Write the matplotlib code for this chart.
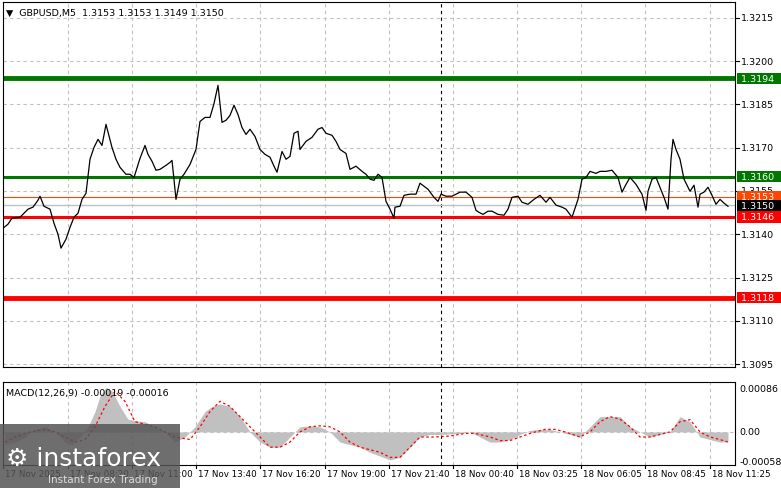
import numpy as np
import matplotlib.pyplot as plt
from matplotlib.patches import Rectangle

# ---- data (bar index, price in pips above 1.3100) ----
bars = [1.5, 4, 6, 10, 12, 14, 16.5, 19, 20, 22, 25, 27, 29, 30.5, 33, 35, 37, 39, 41, 43, 45, 47, 49, 51,
        53, 56, 58, 60, 63, 65, 67, 70, 72.5, 74, 76, 78, 80, 83, 85, 86, 88, 90, 92, 95, 98, 100, 102.5, 105,
        107, 109, 111, 113, 115, 117, 119, 121, 123, 125, 127.5, 130, 132.5, 135, 137, 138.5, 141, 143, 145,
        147, 149, 150, 153, 156, 159, 161, 163, 166, 168, 170, 173, 175, 178, 181, 183, 185, 187, 189, 191,
        193, 195, 197, 197.5, 200, 202, 205, 208, 210, 214, 217, 219, 220.5, 223, 226, 230, 233, 236, 238,
        239.5, 241.5, 244, 246, 249, 252, 254, 256, 259, 261, 264, 267, 270, 273, 275, 278, 281, 283, 286,
        289, 291, 293, 295, 298, 300, 303, 306, 309, 311, 313, 315, 318, 321, 323, 324, 326, 328, 330, 332,
        334, 335.5, 336.5, 338, 340, 342, 345, 347, 349, 350, 352, 354, 356, 358, 360, 362, 364]
price_pips = [42.1, 43.5, 45.6, 45.9, 47.3, 48.7, 49.4, 51.8, 53.2, 49.7, 48.7, 43.8, 40.0, 35.2, 38.3,
              42.4, 45.9, 47.3, 52.1, 54.2, 66.0, 70.1, 72.9, 70.8, 78.1, 70.1, 66.0, 63.2, 60.8, 60.8,
              59.7, 66.3, 70.8, 67.7, 65.3, 62.2, 62.5, 63.9, 64.9, 65.6, 52.1, 59.1, 60.8, 64.2, 69.4,
              79.1, 80.5, 80.5, 85.3, 91.6, 78.8, 79.5, 81.2, 84.7, 81.5, 77.0, 74.6, 76.4, 73.9, 69.4,
              67.7, 66.7, 63.6, 61.5, 68.7, 66.0, 67.0, 75.0, 75.7, 69.4, 72.2, 73.6, 76.4, 77.0, 75.0,
              74.3, 72.2, 69.4, 68.0, 62.5, 63.6, 61.8, 60.8, 59.1, 58.7, 60.8, 59.7, 51.4, 48.7, 45.6,
              49.4, 49.7, 53.5, 53.9, 53.9, 57.7, 55.6, 52.8, 51.4, 53.9, 53.2, 53.2, 54.6, 54.6, 52.8,
              48.3, 47.6, 46.9, 48.0, 48.0, 46.9, 46.6, 48.7, 52.8, 53.2, 51.1, 50.4, 52.1, 53.5, 51.1,
              52.8, 50.1, 49.4, 48.7, 45.9, 52.1, 59.1, 59.7, 61.8, 61.1, 61.8, 61.8, 62.2, 59.7, 54.6,
              57.3, 59.7, 57.3, 53.9, 48.3, 54.9, 59.1, 59.7, 56.3, 52.8, 48.7, 66.0, 72.9, 69.4, 66.0,
              59.1, 54.9, 57.0, 49.4, 53.9, 54.6, 56.3, 53.5, 50.4, 52.1, 50.8, 49.7]
prices = 1.31 + np.array(price_pips) / 10000

# MACD histogram and signal (bar index, value)
hist_bars = [2.5, 7.5, 12.5, 17.5, 22.5, 27.5, 32.5, 36, 40, 44, 47.5, 50, 53, 56, 60, 64, 67.5, 72.5, 77.5,
             82.5, 87.5, 92.5, 97.5, 102.5, 106, 110, 115, 120, 125, 130, 135, 140, 145, 150, 155, 160, 165,
             170, 175, 180, 185, 195, 200, 205, 210, 215, 220, 230, 235, 240, 245, 250, 255, 260, 265, 270,
             275, 280, 285, 290, 295, 300, 305, 310, 315, 320, 325, 330, 335, 340, 345, 350, 355, 360, 364]
hist_vals = [-0.00025, -0.0002, -0.0001, 0.00005, 0.0001, 0.0, -0.0002, -0.00025, -0.0001, 0.0001, 0.0004,
             0.0007, 0.00088, 0.0008, 0.0005, 0.00025, 0.00022, 0.0002, 0.0001, 0.0, -0.0002, -0.0001,
             0.0001, 0.0004, 0.0005, 0.00055, 0.0005, 0.0003, 0.0, -0.0002, -0.0003, -0.0003, -0.0001,
             0.0001, 0.00012, 0.0001, 0.0, -0.0002, -0.00025, -0.0003, -0.0004, -0.00055, -0.0005, -0.0003,
             -0.0001, -0.00005, -0.00005, -0.00003, 0.0, -0.0001, -0.0002, -0.0002, -0.00015, -0.00005,
             0.00003, 0.00005, 0.00005, 0.0, -0.00005, -0.0001, 0.0001, 0.0003, 0.0003, 0.0003, 0.0001,
             0.0, -0.0001, -0.00005, 0.0, 0.0003, 0.0002, -0.0001, -0.00015, -0.0002, -0.00019]
sig_bars = [2.5, 7.5, 15, 22.5, 27.5, 32.5, 37.5, 42.5, 47.5, 52.5, 57.5, 62.5, 67.5, 72.5, 77.5, 82.5,
            87.5, 95, 100, 105, 110, 115, 120, 125, 130, 135, 140, 145, 150, 155, 160, 165, 170, 175, 180,
            185, 190, 195, 200, 205, 210, 217.5, 225, 232.5, 237.5, 245, 250, 255, 260, 265, 272.5, 277.5,
            282.5, 290, 295, 300, 305, 310, 315, 320, 325, 330, 335, 340, 345, 350, 355, 360, 364]
sig_vals = [-0.0002, -0.0001, 0.0, 0.00005, 0.0, -0.0001, -0.0002, -0.00015, 0.0001, 0.0005, 0.0008,
            0.0006, 0.0002, 0.00015, 0.0001, 0.0, -0.0001, -0.00015, 0.0001, 0.0004, 0.0006, 0.0005, 0.0003,
            0.0001, -0.0001, -0.0003, -0.0003, -0.0002, 0.0, 0.0001, 0.00012, 0.0001, 0.0, -0.0002, -0.0003,
            -0.00035, -0.0004, -0.0005, -0.0005, -0.0003, -0.0001, -0.0001, -0.00008, -0.00003, -0.00003,
            -0.0001, -0.00017, -0.00017, -0.0001, -0.00003, 0.00005, 0.00005, 0.0, -0.0001, 0.0, 0.0002,
            0.0003, 0.00025, 0.0001, -0.0001, -0.0001, -0.00005, 0.0, 0.0002, 0.00024, 0.0, -0.0001,
            -0.00015, -0.0002]

# horizontal levels
green_levels = [1.3194, 1.3160]
red_levels = [1.3146, 1.3118]
ask_price = 1.3153
bid_price = 1.3150

price_ticks = [1.3215, 1.3200, 1.3185, 1.3170, 1.3155, 1.3140, 1.3125, 1.3110, 1.3095]
time_tick_bars = [1.5, 34, 66, 98, 130, 162.5, 194.5, 226.5, 258.5, 290.5, 322.5, 355]
time_tick_labels = ["17 Nov 2025", "17 Nov 08:20", "17 Nov 11:00", "17 Nov 13:40", "17 Nov 16:20",
                    "17 Nov 19:00", "17 Nov 21:40", "18 Nov 00:40", "18 Nov 03:25", "18 Nov 06:05",
                    "18 Nov 08:45", "18 Nov 11:25"]
cursor_bar = 220.5

FS = 6.8

# ---- figure ----
W, H = 781, 489
fig = plt.figure(figsize=(W / 100, H / 100), dpi=100)
fig.patch.set_facecolor("white")

ax = fig.add_axes([3 / W, 1 - 368 / H, 732 / W, 365 / H])
mx = fig.add_axes([3 / W, 1 - 466 / H, 732 / W, 83 / H])
XL = (1.5, 367.5)

for a in (ax, mx):
    a.set_xlim(*XL)
    a.set_xticks([])
    a.set_yticks([])
    for s in a.spines.values():
        s.set_linewidth(0.8)
    for b in time_tick_bars[1:]:
        a.axvline(b, color="#c0c0c0", ls=(0, (3, 3)), lw=0.8, zorder=0)
    a.axvline(cursor_bar, color="black", ls=(0, (3, 3)), lw=0.8, zorder=1)

ax.set_ylim(1.30940, 1.32205)
for p in price_ticks:
    ax.axhline(p, color="#c0c0c0", ls=(0, (3, 3)), lw=0.8, zorder=0)
    ax.text(1.008, p, f"{p:.4f}", transform=ax.get_yaxis_transform(), fontsize=FS,
            va="center", ha="left")
    ax.plot([1.0, 1.005], [p, p], transform=ax.get_yaxis_transform(), color="black",
            lw=0.8, clip_on=False)

ax.axhline(green_levels[0], color="#007800", lw=3.5, zorder=2)
ax.axhline(green_levels[1], color="#007800", lw=2.2, zorder=2)
ax.axhline(red_levels[0], color="#ff0000", lw=2.2, zorder=2)
ax.axhline(red_levels[1], color="#ff0000", lw=3.5, zorder=2)
ax.axhline(ask_price, color="#ff4500", lw=0.8, zorder=2)
ax.axhline(bid_price, color="#c0c0c0", lw=1.0, zorder=2)

ax.plot(bars, prices, color="black", lw=0.9, zorder=3)

labels = [(green_levels[0], "#007800", "white"), (green_levels[1], "#007800", "white"),
          (ask_price, "#ff4500", "white"), (bid_price, "black", "white"),
          (red_levels[0], "#ff0000", "white"), (red_levels[1], "#ff0000", "white")]
for p, bg, fg in labels:
    ax.text(1.004, p, f" {p:.4f}  ", transform=ax.get_yaxis_transform(), fontsize=FS,
            va="center", ha="left", color=fg,
            bbox=dict(boxstyle="square,pad=0.12", fc=bg, ec="none"), zorder=5)

ax.text(0.004, 0.985, "\u25BC  GBPUSD,M5  1.3153 1.3153 1.3149 1.3150", transform=ax.transAxes,
        fontsize=FS, va="top", ha="left")

# ---- MACD ----
mx.set_ylim(-0.00065, 0.00098)
mx.fill_between(hist_bars, hist_vals, 0, color="#c0c0c0", lw=0, zorder=2)
mx.plot(sig_bars, sig_vals, color="red", ls=(0, (2, 2)), lw=0.9, zorder=3)
mx.axhline(0, color="#c0c0c0", ls=(0, (3, 3)), lw=0.8, zorder=1)
for v, t in [(0.00086, "0.00086"), (0.0, "0.00"), (-0.00058, "-0.00058")]:
    mx.text(1.006, v, t, transform=mx.get_yaxis_transform(), fontsize=FS, va="center", ha="left")
mx.text(0.004, 0.93, "MACD(12,26,9) -0.00019 -0.00016", transform=mx.transAxes, fontsize=FS,
        va="top", ha="left")

for b, lab in zip(time_tick_bars, time_tick_labels):
    mx.text(b + 1, -0.05, lab, transform=mx.get_xaxis_transform(), fontsize=6.3, va="top", ha="left")
    mx.plot([b, b], [0, -0.04], transform=mx.get_xaxis_transform(), color="black", lw=0.8,
            clip_on=False)

# logo overlay
fig.patches.append(Rectangle((0, 0), 180 / W, 64 / H, transform=fig.transFigure,
                             fc="#555555", alpha=0.85, ec="none", zorder=10))
fig.text(6 / W, 30 / H, "\u2699 instaforex", fontsize=18, color="white", va="center",
         ha="left", zorder=11)
fig.text(48 / W, 9 / H, "Instant Forex Trading", fontsize=7.5, color="#dddddd", va="center",
         ha="left", zorder=11)

fig.savefig("out.png", dpi=100)
